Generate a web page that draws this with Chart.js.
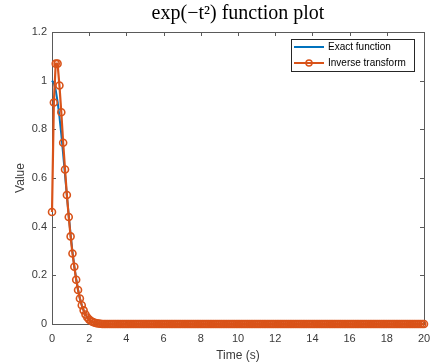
<!DOCTYPE html>
<html>
<head>
<meta charset="utf-8">
<title>exp(-t^2) function plot</title>
<script src="https://cdn.jsdelivr.net/npm/chart.js@4.4.1/dist/chart.umd.min.js"></script>
<style>
  html, body { margin: 0; padding: 0; background: #fff; }
  #wrap { width: 432px; height: 364px; }
</style>
</head>
<body>
<div id="wrap"><canvas id="myChart" width="432" height="364"></canvas></div>
<script>
// time axis, 0..20 s in 0.1 s steps
var timeS = [
  0, 0.1, 0.2, 0.3, 0.4, 0.5, 0.6, 0.7, 0.8, 0.9,
  1, 1.1, 1.2, 1.3, 1.4, 1.5, 1.6, 1.7, 1.8, 1.9,
  2, 2.1, 2.2, 2.3, 2.4, 2.5, 2.6, 2.7, 2.8, 2.9,
  3, 3.1, 3.2, 3.3, 3.4, 3.5, 3.6, 3.7, 3.8, 3.9,
  4, 4.1, 4.2, 4.3, 4.4, 4.5, 4.6, 4.7, 4.8, 4.9,
  5, 5.1, 5.2, 5.3, 5.4, 5.5, 5.6, 5.7, 5.8, 5.9,
  6, 6.1, 6.2, 6.3, 6.4, 6.5, 6.6, 6.7, 6.8, 6.9,
  7, 7.1, 7.2, 7.3, 7.4, 7.5, 7.6, 7.7, 7.8, 7.9,
  8, 8.1, 8.2, 8.3, 8.4, 8.5, 8.6, 8.7, 8.8, 8.9,
  9, 9.1, 9.2, 9.3, 9.4, 9.5, 9.6, 9.7, 9.8, 9.9,
  10, 10.1, 10.2, 10.3, 10.4, 10.5, 10.6, 10.7, 10.8, 10.9,
  11, 11.1, 11.2, 11.3, 11.4, 11.5, 11.6, 11.7, 11.8, 11.9,
  12, 12.1, 12.2, 12.3, 12.4, 12.5, 12.6, 12.7, 12.8, 12.9,
  13, 13.1, 13.2, 13.3, 13.4, 13.5, 13.6, 13.7, 13.8, 13.9,
  14, 14.1, 14.2, 14.3, 14.4, 14.5, 14.6, 14.7, 14.8, 14.9,
  15, 15.1, 15.2, 15.3, 15.4, 15.5, 15.6, 15.7, 15.8, 15.9,
  16, 16.1, 16.2, 16.3, 16.4, 16.5, 16.6, 16.7, 16.8, 16.9,
  17, 17.1, 17.2, 17.3, 17.4, 17.5, 17.6, 17.7, 17.8, 17.9,
  18, 18.1, 18.2, 18.3, 18.4, 18.5, 18.6, 18.7, 18.8, 18.9,
  19, 19.1, 19.2, 19.3, 19.4, 19.5, 19.6, 19.7, 19.8, 19.9,
  20
];

// exact exp(-t^2), values
var exactValues = [
  1, 0.99, 0.961, 0.914, 0.852, 0.779, 0.698, 0.613, 0.527, 0.445,
  0.368, 0.298, 0.237, 0.185, 0.141, 0.105, 0.077, 0.056, 0.039, 0.027,
  0.018, 0.012, 0.008, 0.005, 0.003, 0.002, 0.001, 0, 0, 0,
  0, 0, 0, 0, 0, 0, 0, 0, 0, 0,
  0, 0, 0, 0, 0, 0, 0, 0, 0, 0,
  0, 0, 0, 0, 0, 0, 0, 0, 0, 0,
  0, 0, 0, 0, 0, 0, 0, 0, 0, 0,
  0, 0, 0, 0, 0, 0, 0, 0, 0, 0,
  0, 0, 0, 0, 0, 0, 0, 0, 0, 0,
  0, 0, 0, 0, 0, 0, 0, 0, 0, 0,
  0, 0, 0, 0, 0, 0, 0, 0, 0, 0,
  0, 0, 0, 0, 0, 0, 0, 0, 0, 0,
  0, 0, 0, 0, 0, 0, 0, 0, 0, 0,
  0, 0, 0, 0, 0, 0, 0, 0, 0, 0,
  0, 0, 0, 0, 0, 0, 0, 0, 0, 0,
  0, 0, 0, 0, 0, 0, 0, 0, 0, 0,
  0, 0, 0, 0, 0, 0, 0, 0, 0, 0,
  0, 0, 0, 0, 0, 0, 0, 0, 0, 0,
  0, 0, 0, 0, 0, 0, 0, 0, 0, 0,
  0, 0, 0, 0, 0, 0, 0, 0, 0, 0,
  0
];

// numerical inverse transform (ringing near t = 0)
var inverseValues = [
  0.46, 0.91, 1.07, 1.07, 0.98, 0.87, 0.745, 0.635, 0.53, 0.44,
  0.36, 0.29, 0.235, 0.182, 0.14, 0.105, 0.077, 0.056, 0.039, 0.027,
  0.018, 0.012, 0.008, 0.005, 0.003, 0.002, 0.001, 0, 0, 0,
  0, 0, 0, 0, 0, 0, 0, 0, 0, 0,
  0, 0, 0, 0, 0, 0, 0, 0, 0, 0,
  0, 0, 0, 0, 0, 0, 0, 0, 0, 0,
  0, 0, 0, 0, 0, 0, 0, 0, 0, 0,
  0, 0, 0, 0, 0, 0, 0, 0, 0, 0,
  0, 0, 0, 0, 0, 0, 0, 0, 0, 0,
  0, 0, 0, 0, 0, 0, 0, 0, 0, 0,
  0, 0, 0, 0, 0, 0, 0, 0, 0, 0,
  0, 0, 0, 0, 0, 0, 0, 0, 0, 0,
  0, 0, 0, 0, 0, 0, 0, 0, 0, 0,
  0, 0, 0, 0, 0, 0, 0, 0, 0, 0,
  0, 0, 0, 0, 0, 0, 0, 0, 0, 0,
  0, 0, 0, 0, 0, 0, 0, 0, 0, 0,
  0, 0, 0, 0, 0, 0, 0, 0, 0, 0,
  0, 0, 0, 0, 0, 0, 0, 0, 0, 0,
  0, 0, 0, 0, 0, 0, 0, 0, 0, 0,
  0, 0, 0, 0, 0, 0, 0, 0, 0, 0,
  0
];

var seriesNames = ['Exact function', 'Inverse transform'];
var titleText = 'exp(\u2212t\u00B2) function plot';
var xLabel = 'Time (s)';
var yLabel = 'Value';

var axisColor = '#3a3a3a';
var boxColor = '#5a5a5a';
var blue = '#0072BD';
var orange = '#D95319';
var sans = '"Liberation Sans", Arial, sans-serif';

function toPoints(vals) {
  return timeS.map(function(t, i) {
    return { x: t, y: vals[i] };
  });
}

// MATLAB style box with inward ticks, drawn under the lines
var boxPlugin = {
  id: 'boxPlugin',
  beforeDatasetsDraw: function(chart) {
    var ctx = chart.ctx;
    var a = chart.chartArea;
    var sx = chart.scales.x;
    var sy = chart.scales.y;
    var tl = 4;
    ctx.save();
    ctx.strokeStyle = boxColor;
    ctx.lineWidth = 1;
    ctx.strokeRect(Math.round(a.left) + 0.5, Math.round(a.top) + 0.5,
      Math.round(a.right - a.left), Math.round(a.bottom - a.top));
    ctx.beginPath();
    sx.ticks.forEach(function(t) {
      var px = Math.round(sx.getPixelForValue(t.value)) + 0.5;
      ctx.moveTo(px, a.bottom); ctx.lineTo(px, a.bottom - tl);
      ctx.moveTo(px, a.top); ctx.lineTo(px, a.top + tl);
    });
    sy.ticks.forEach(function(t) {
      var py = Math.round(sy.getPixelForValue(t.value)) + 0.5;
      ctx.moveTo(a.left, py); ctx.lineTo(a.left + tl, py);
      ctx.moveTo(a.right, py); ctx.lineTo(a.right - tl, py);
    });
    ctx.stroke();
    ctx.restore();
  }
};

// legend box in the upper right corner of the axes
var legendPlugin = {
  id: 'legendPlugin',
  afterDraw: function(chart) {
    var ctx = chart.ctx;
    var a = chart.chartArea;
    var bx = a.right - 133, by = a.top + 7, bw = 123, bh = 32;
    ctx.save();
    ctx.fillStyle = '#fff';
    ctx.fillRect(bx, by, bw, bh);
    ctx.strokeStyle = '#262626';
    ctx.lineWidth = 1;
    ctx.strokeRect(Math.round(bx) + 0.5, Math.round(by) + 0.5, bw, bh);
    ctx.font = '10px ' + sans;
    ctx.textBaseline = 'middle';
    chart.data.datasets.forEach(function(ds, i) {
      var ly = by + 8 + i * 16;
      ctx.strokeStyle = ds.borderColor;
      ctx.lineWidth = 2;
      ctx.beginPath();
      ctx.moveTo(bx + 3, ly);
      ctx.lineTo(bx + 33, ly);
      ctx.stroke();
      if (ds.pointRadius > 0) {
        ctx.lineWidth = 1.5;
        ctx.beginPath();
        ctx.arc(bx + 18, ly, 3, 0, Math.PI * 2);
        ctx.stroke();
      }
      ctx.fillStyle = '#000';
      ctx.fillText(ds.label, bx + 37, ly + 0.5);
    });
    ctx.restore();
  }
};

var ctx = document.getElementById('myChart').getContext('2d');
var myChart = new Chart(ctx, {
  type: 'line',
  data: {
    datasets: [{
      label: seriesNames[0],
      data: toPoints(exactValues),
      borderColor: blue,
      backgroundColor: blue,
      borderWidth: 2,
      pointRadius: 0,
      fill: false,
      order: 1,
      clip: false
    }, {
      label: seriesNames[1],
      data: toPoints(inverseValues),
      borderColor: orange,
      backgroundColor: 'rgba(0,0,0,0)',
      pointBorderColor: orange,
      pointBackgroundColor: 'rgba(0,0,0,0)',
      pointBorderWidth: 1.6,
      pointRadius: 3.5,
      borderWidth: 2.2,
      fill: false,
      order: 0,
      clip: false
    }]
  },
  options: {
    responsive: false,
    animation: false,
    layout: { padding: { left: 0, right: 8, top: 0, bottom: 0 } },
    plugins: {
      legend: { display: false },
      tooltip: { enabled: false },
      title: {
        display: true,
        fullSize: false,
        text: titleText,
        color: '#000',
        font: { family: '"Liberation Serif", "DejaVu Serif", serif', size: 20, weight: 'normal' },
        padding: { top: 2, bottom: 6 }
      }
    },
    scales: {
      x: {
        type: 'linear',
        min: 0,
        max: 20,
        grid: { display: false, drawTicks: false },
        border: { display: false },
        ticks: {
          stepSize: 2,
          color: axisColor,
          padding: 8,
          maxRotation: 0,
          font: { family: sans, size: 11 }
        },
        title: {
          display: true,
          text: xLabel,
          color: axisColor,
          font: { family: sans, size: 12 },
          padding: { top: 1, bottom: 1 }
        },
        afterFit: function(scale) {
          scale.height = 40;
          scale.paddingLeft = 0;
          scale.paddingRight = 0;
        }
      },
      y: {
        type: 'linear',
        min: 0,
        max: 1.2,
        grid: { display: false, drawTicks: false },
        border: { display: false },
        ticks: {
          stepSize: 0.2,
          color: axisColor,
          padding: 5,
          font: { family: sans, size: 11 },
          callback: function(v) { return String(Math.round(v * 10) / 10); }
        },
        title: {
          display: true,
          text: yLabel,
          color: axisColor,
          font: { family: sans, size: 12 },
          padding: { top: 13, bottom: 13 }
        },
        afterFit: function(scale) {
          scale.width = 52;
          scale.paddingTop = 0;
          scale.paddingBottom = 0;
        }
      }
    }
  },
  plugins: [boxPlugin, legendPlugin]
});
</script>
</body>
</html>
